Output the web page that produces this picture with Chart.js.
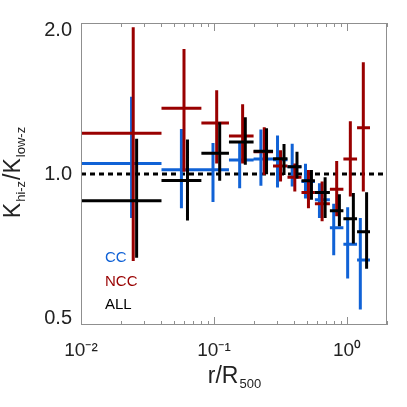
<!DOCTYPE html>
<html>
<head>
<meta charset="utf-8">
<script src="https://cdn.jsdelivr.net/npm/chart.js@4.4.1/dist/chart.umd.min.js"></script>
<style>
  html, body { margin: 0; padding: 0; background: #fff; }
</style>
</head>
<body>
<canvas id="chart" width="407" height="407"></canvas>
<script>
// radial bins (r/R500), shared by all three samples
const binLo = [0.01, 0.0403, 0.0804, 0.1296, 0.1985, 0.278, 0.357, 0.455, 0.574, 0.744, 0.940, 1.191];
const binHi = [0.0403, 0.0804, 0.1296, 0.1985, 0.278, 0.357, 0.455, 0.574, 0.744, 0.940, 1.191, 1.490];

// CC
const ccR = [0.0240, 0.0569, 0.0983, 0.156, 0.2253, 0.3005, 0.3874, 0.4875, 0.621, 0.795, 1.012, 1.260];
const ccK = [1.049, 1.020, 1.020, 1.066, 1.071, 1.067, 1.034, 0.966, 0.889, 0.781, 0.724, 0.674];
const ccLo = [0.817, 0.855, 0.879, 0.937, 0.947, 0.940, 0.944, 0.894, 0.817, 0.689, 0.619, 0.537];
const ccHi = [1.425, 1.230, 1.153, 1.153, 1.227, 1.193, 1.149, 1.048, 0.958, 0.872, 0.858, 0.817];

// NCC
const nccR = [0.0247, 0.0595, 0.1048, 0.1642, 0.2388, 0.3166, 0.4053, 0.5133, 0.6503, 0.837, 1.060, 1.327];
const nccK = [1.206, 1.352, 1.264, 1.190, 1.107, 1.038, 0.985, 0.919, 0.872, 0.932, 1.071, 1.236];
const nccLo = [0.671, 1.010, 1.049, 1.049, 0.995, 0.966, 0.923, 0.855, 0.805, 0.824, 0.902, 0.923];
const nccHi = [1.962, 1.776, 1.469, 1.378, 1.240, 1.115, 1.049, 1.018, 0.966, 1.062, 1.274, 1.671];

// ALL
const allR = [0.0262, 0.0632, 0.1104, 0.172, 0.2484, 0.3362, 0.4209, 0.5406, 0.685, 0.877, 1.117, 1.405];
const allK = [0.884, 0.971, 1.100, 1.158, 1.110, 1.072, 1.034, 0.969, 0.919, 0.845, 0.814, 0.767];
const allLo = [0.681, 0.808, 0.969, 1.043, 0.999, 0.995, 0.979, 0.889, 0.817, 0.787, 0.727, 0.647];
const allHi = [1.176, 1.172, 1.268, 1.297, 1.234, 1.148, 1.107, 1.018, 0.985, 0.911, 0.916, 0.920];

const xRange = [0.01, 2];
const yRange = [0.5, 2];
const xTickValues = [0.01, 0.1, 1];
const xTickLabels = ['10\u207B\u00B2', '10\u207B\u00B9', '10\u2070'];
const yTickValues = [0.5, 1, 2];
const yTickLabels = ['0.5', '1.0', '2.0'];
const refLevel = 1;

const blue = '#1062d6';
const red = '#990000';
const black = '#000000';
const fontName = '"Liberation Sans", Arial, sans-serif';

// turn one sample into error-bar segments, null points break the line
function errorBars(r, k, lo, hi) {
  const pts = [];
  for (let i = 0; i < r.length; i++) {
    pts.push({ x: binLo[i], y: k[i] }, { x: binHi[i], y: k[i] }, { x: null, y: null });
    pts.push({ x: r[i], y: lo[i] }, { x: r[i], y: hi[i] }, { x: null, y: null });
  }
  return pts;
}

function barSet(label, color, pts, order) {
  return {
    label: label,
    data: pts,
    borderColor: color,
    borderWidth: 3,
    borderCapStyle: 'butt',
    pointRadius: 0,
    spanGaps: false,
    tension: 0,
    order: order
  };
}

// frame, inward ticks, axis titles and in-plot labels
const decorations = {
  id: 'decorations',
  afterDraw(chart) {
    const ctx = chart.ctx;
    const xs = chart.scales.x;
    const { left, right, top, bottom } = chart.chartArea;
    ctx.save();
    ctx.strokeStyle = '#8f8f8f';
    ctx.lineWidth = 1;
    ctx.strokeRect(left + 0.5, top + 0.5, right - left - 1, bottom - top - 1);

    ctx.beginPath();
    for (const d of xTickValues) {
      for (let k = 1; k <= 9; k++) {
        const v = d * k;
        if (v < xRange[0] || v > xRange[1]) continue;
        const px = Math.round(xs.getPixelForValue(v)) + 0.5;
        const len = k === 1 ? 8 : 4;
        ctx.moveTo(px, bottom);
        ctx.lineTo(px, bottom - len);
        ctx.moveTo(px, top);
        ctx.lineTo(px, top + len);
      }
    }
    ctx.stroke();

    ctx.fillStyle = '#222';
    ctx.textBaseline = 'alphabetic';

    // x title: r/R500
    const big = '23px ' + fontName;
    const small = '13px ' + fontName;
    ctx.font = big;
    const w1 = ctx.measureText('r/R').width;
    ctx.font = small;
    const w2 = ctx.measureText('500').width;
    let x0 = 234 - (w1 + w2) / 2;
    ctx.font = big;
    ctx.fillText('r/R', x0, 383);
    ctx.font = small;
    ctx.fillText('500', x0 + w1 + 1, 388);

    // y title: K_hi-z / K_low-z
    const parts = [
      { t: 'K', f: big, dy: 0 },
      { t: 'hi-z', f: small, dy: 5 },
      { t: '/K', f: big, dy: 0 },
      { t: 'low-z', f: small, dy: 5 }
    ];
    let total = 0;
    for (const p of parts) {
      ctx.font = p.f;
      p.w = ctx.measureText(p.t).width + 1;
      total += p.w;
    }
    ctx.translate(20, 172);
    ctx.rotate(-Math.PI / 2);
    let pos = -total / 2;
    for (const p of parts) {
      ctx.font = p.f;
      ctx.fillText(p.t, pos, p.dy);
      pos += p.w;
    }
    ctx.restore();

    ctx.save();
    ctx.font = '15px ' + fontName;
    ctx.fillStyle = blue;
    ctx.fillText('CC', 105, 262);
    ctx.fillStyle = red;
    ctx.fillText('NCC', 105, 286);
    ctx.fillStyle = black;
    ctx.fillText('ALL', 105, 309);
    ctx.restore();
  }
};

const chartBox = document.getElementById('chart');

const chartData = {
  datasets: [
    {
      label: 'ratio = 1',
      data: [{ x: xRange[0], y: refLevel }, { x: xRange[1], y: refLevel }],
      borderColor: black,
      borderWidth: 3,
      borderDash: [5, 4],
      pointRadius: 0,
      order: 3
    },
    barSet('CC', blue, errorBars(ccR, ccK, ccLo, ccHi), 2),
    barSet('NCC', red, errorBars(nccR, nccK, nccLo, nccHi), 1),
    barSet('ALL', black, errorBars(allR, allK, allLo, allHi), 0)
  ]
};

const chartOptions = {
  responsive: false,
  animation: false,
  layout: { padding: { top: 20, right: 20, left: 0, bottom: 0 } },
  plugins: {
    legend: { display: false },
    tooltip: { enabled: false }
  },
  scales: {
    x: {
      type: 'logarithmic',
      position: 'bottom',
      min: xRange[0],
      max: xRange[1],
      grid: { display: false, drawTicks: false },
      border: { display: false },
      afterBuildTicks: s => { s.ticks = xTickValues.map(v => ({ value: v })); },
      afterFit: s => { s.height = 82; },
      ticks: {
        autoSkip: false,
        maxRotation: 0,
        padding: 14,
        color: '#222',
        font: { family: fontName, size: 19 },
        callback: v => xTickLabels[xTickValues.indexOf(v)]
      }
    },
    y: {
      type: 'logarithmic',
      min: yRange[0],
      max: yRange[1],
      grid: { display: false, drawTicks: false },
      border: { display: false },
      afterBuildTicks: s => { s.ticks = yTickValues.map(v => ({ value: v })); },
      afterFit: s => { s.width = 81; },
      ticks: {
        autoSkip: false,
        padding: 9,
        color: '#222',
        font: { family: fontName, size: 20, lineHeight: 0.7 },
        // push the end labels inside the axis range like the original
        callback: v => {
          const i = yTickValues.indexOf(v);
          if (i === yTickValues.length - 1) return ['', yTickLabels[i]];
          if (i === 0) return [yTickLabels[i], ''];
          return yTickLabels[i];
        }
      }
    }
  }
};

const chartInstance = new Chart(chartBox, {
  type: 'line',
  data: chartData,
  options: chartOptions,
  plugins: [decorations]
});
</script>
</body>
</html>
